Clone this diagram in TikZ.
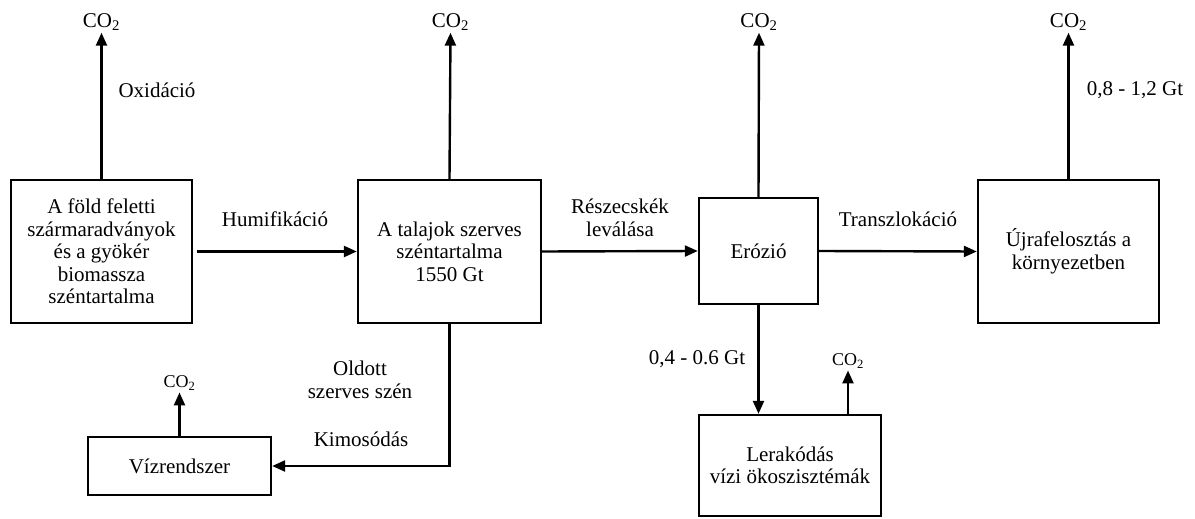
\documentclass[tikz,border=0pt]{standalone}
\usepackage{fontspec}
\setmainfont{Liberation Serif}
\usetikzlibrary{arrows.meta}
\begin{document}
\begin{tikzpicture}[x=1pt,y=-1pt,
  box/.style={draw,line width=2.4pt,align=center,inner sep=2pt,font=\fontsize{21}{22.5}\selectfont},
  lbl/.style={align=center,font=\fontsize{21}{23}\selectfont,inner sep=2pt},
  co/.style={font=\fontsize{21}{23}\selectfont,inner sep=2pt},
  cos/.style={font=\fontsize{18}{20}\selectfont,inner sep=2pt},
  arr/.style={line width=2.4pt,-{Triangle[length=13pt,width=11pt]}}]
\useasboundingbox (0,0) rectangle (1195,519);
% boxes
\node[box,minimum width=181,minimum height=143] (b1) at (101.5,251.5)
  {A föld feletti\\szármaradványok\\és a gyökér\\biomassza\\széntartalma};
\node[box,minimum width=183,minimum height=143] (b2) at (449.5,251.5)
  {A talajok szerves\\széntartalma\\1550 Gt};
\node[box,minimum width=119,minimum height=106] (b3) at (758.5,251)
  {Erózió};
\node[box,minimum width=181,minimum height=143] (b4) at (1068.5,251.5)
  {Újrafelosztás a\\környezetben};
\node[box,minimum width=182,minimum height=101] (b5) at (790,465.5)
  {Lerakódás\\vízi ökoszisztémák};
\node[box,minimum width=183,minimum height=58] (b6) at (179.5,466)
  {Vízrendszer};
% CO2 labels
\node[co] (c1) at (101.5,22) {CO\textsubscript{2}};
\node[co] (c2) at (450.5,22) {CO\textsubscript{2}};
\node[co] (c3) at (759,22) {CO\textsubscript{2}};
\node[co] (c4) at (1068.5,22) {CO\textsubscript{2}};
\node[cos] (c5) at (848,361) {CO\textsubscript{2}};
\node[cos] (c6) at (179.5,383) {CO\textsubscript{2}};
% edge labels
\node[lbl] (l1) at (157,90) {Oxidáció};
\node[lbl] (l2) at (275,219) {Humifikáció};
\node[lbl] (l3) at (620,218) {Részecskék\\leválása};
\node[lbl] (l4) at (898,219) {Transzlokáció};
\node[lbl] (l5) at (1135,90) {0,8 - 1,2 Gt};
\node[lbl] (l6) at (697,359) {0,4 - 0.6 Gt};
\node[lbl] (l7) at (360,380) {Oldott\\szerves szén};
\node[lbl] (l8) at (361,439) {Kimosódás};
% connectors
\draw[arr] (b1.north) -- (c1.south);
\draw[arr] (b2.north) -- (c2.south);
\draw[arr] (b3.north) -- (c3.south);
\draw[arr] (b4.north) -- (c4.south);
\draw[arr] ([xshift=4pt]b1.east) -- (b2.west);
\draw[arr] (b2.east) -- (b3.west);
\draw[arr] (b3.east) -- (b4.west);
\draw[arr] (b3.south) -- (b3.south |- b5.north);
\draw[arr] (c5.south |- b5.north) -- (c5.south);
\draw[arr] (b2.south) |- (b6.east);
\draw[arr] (c6.south |- b6.north) -- (c6.south);
\end{tikzpicture}
\end{document}
